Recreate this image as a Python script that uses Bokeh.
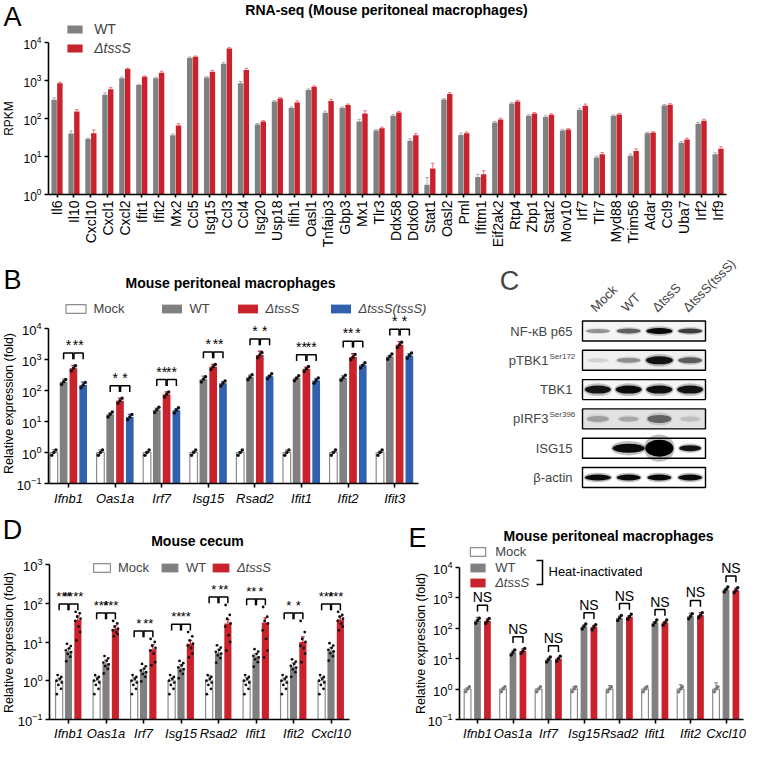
import math
from bokeh.plotting import figure
from bokeh.models import (Range1d, FixedTicker, Label, LabelSet, ColumnDataSource,
                          Legend, LegendItem, Arrow)
from bokeh.layouts import row, column
from bokeh.embed import file_html
from bokeh.resources import INLINE
from bokeh.core.properties import value

FONT = "Liberation Sans"
GRAY = "#808080"
RED = "#C9222C"
BLUE = "#3161AF"
MOCK_LINE = "#8c8c8c"

# ---------------- Panel A data ----------------
genes_A = ["Il6", "Il10", "Cxcl10", "Cxcl1", "Cxcl2", "Ifit1", "Ifit2", "Mx2", "Ccl5", "Isg15",
           "Ccl3", "Ccl4", "Isg20", "Usp18", "Ifih1", "Oasl1", "Tnfaip3", "Gbp3", "Mx1", "Tlr3",
           "Ddx58", "Ddx60", "Stat1", "Oasl2", "Pml", "Ifitm1", "Eif2ak2", "Rtp4", "Zbp1", "Stat2",
           "Mov10", "Irf7", "Tlr7", "Myd88", "Trim56", "Adar", "Ccl9", "Uba7", "Irf2", "Irf9"]
wt_A = [310, 40, 29, 420, 1150, 760, 1150, 36, 3900, 1200, 2750, 850, 70, 280, 190, 560, 141, 190, 83, 48,
        118, 26, 1.8, 315, 37, 2.9, 79, 250, 118, 110, 48, 167, 9.4, 118, 10.4, 41, 220, 23, 73, 11.5]
wt_err_A = [40, 7, 1.5, 50, 80, 40, 60, 3, 250, 60, 250, 90, 4, 15, 12, 40, 15, 12, 12, 3,
            8, 3, 1.0, 20, 4, 0.5, 5, 15, 7, 8, 3, 15, 0.8, 6, 1.2, 2, 12, 2, 6, 1]
ko_A = [850, 152, 41, 590, 2000, 1250, 1600, 65, 4200, 1700, 6900, 1900, 83, 335, 265, 680, 290, 225, 135, 55,
        144, 36, 4.8, 440, 41, 3.4, 94, 280, 135, 125, 51, 215, 11.5, 127, 14, 43, 230, 28, 87, 16]
ko_err_A = [50, 20, 9, 60, 120, 70, 150, 8, 200, 150, 400, 200, 5, 20, 25, 40, 30, 15, 25, 4,
            8, 4, 1.8, 40, 3, 0.8, 8, 20, 8, 8, 3, 25, 1.2, 8, 1.8, 2, 15, 2.5, 8, 2]

# ---------------- Panel B data ----------------
genes_B = ["Ifnb1", "Oas1a", "Irf7", "Isg15", "Rsad2", "Ifit1", "Ifit2", "Ifit3"]
mock_B = [1.0, 1.0, 1.0, 1.0, 1.0, 1.0, 1.0, 1.0]
mock_err_B = [0.25, 0.2, 0.06, 0.1, 0.06, 0.2, 0.06, 0.1]
wt_B = [190, 17, 24, 230, 270, 250, 260, 1250]
wt_err_B = [45, 1.5, 3, 60, 45, 20, 45, 100]
ko_B = [520, 47, 75, 580, 1400, 500, 1200, 3000]
ko_err_B = [130, 10, 15, 120, 450, 70, 350, 800]
comp_B = [150, 14, 23, 170, 290, 210, 650, 1350]
comp_err_B = [35, 3, 3, 25, 20, 30, 40, 200]
stars_B_wt_ko = ["*", "*", "**", "*", "*", "**", "**", "*"]
stars_B_ko_comp = ["**", "*", "**", "**", "*", "**", "*", "*"]
rep_ratio_3 = [0.82, 1.0, 1.2]

# ---------------- Panel C data ----------------
blot_lanes = ["Mock", "WT", "\u0394tssS", "\u0394tssS(tssS)"]
blot_rows = ["NF-\u03baB p65", "pTBK1", "TBK1", "pIRF3", "ISG15", "\u03b2-actin"]
blot_sup = ["", "Ser172", "", "Ser396", "", ""]
band_intensity = [[0.35, 0.55, 0.95, 0.7],
                  [0.1, 0.35, 0.9, 0.55],
                  [0.9, 0.95, 0.92, 0.9],
                  [0.25, 0.22, 0.5, 0.12],
                  [0.0, 0.95, 1.0, 0.9],
                  [0.95, 0.95, 0.95, 0.95]]
band_thickness = [[4, 5, 6, 5],
                  [4, 5, 8, 6],
                  [8, 8, 8, 8],
                  [6, 5, 8, 5],
                  [0, 9, 17, 6],
                  [6, 6, 6, 6]]
band_width = [[24, 24, 26, 24],
              [22, 24, 27, 24],
              [26, 26, 26, 26],
              [22, 20, 24, 20],
              [0, 32, 28, 22],
              [26, 24, 24, 24]]
blot_bg = ["#f4f4f4", "#f0f0f0", "#f6f6f6", "#e2e2e2", "#ffffff", "#ffffff"]

# ---------------- Panel D data ----------------
genes_D = ["Ifnb1", "Oas1a", "Irf7", "Isg15", "Rsad2", "Ifit1", "Ifit2", "Cxcl10"]
mock_D = [1.0, 1.0, 1.0, 1.0, 1.0, 1.0, 1.0, 1.0]
mock_err_D = [0.15, 0.25, 0.2, 0.15, 0.35, 0.2, 0.15, 0.2]
wt_D = [5.8, 2.8, 1.75, 2.1, 5.3, 4.2, 2.3, 6.0]
wt_err_D = [1.0, 0.6, 0.25, 0.5, 1.2, 0.8, 0.6, 1.2]
ko_D = [37, 22, 6.5, 9.0, 30, 32, 10, 38]
ko_err_D = [10, 4, 2, 2, 8, 10, 3.5, 8]
ko_reps_D = [[60, 55, 45, 40, 35, 25, 18, 11],
             [35, 30, 25, 22, 20, 18, 16, 14],
             [12, 10, 8, 7, 6, 5, 3, 2.5],
             [18, 14, 11, 9, 8, 7, 5, 4],
             [90, 50, 40, 30, 25, 15, 10, 6],
             [80, 45, 35, 30, 20, 12, 6, 4],
             [35, 18, 12, 10, 8, 7, 5, 3],
             [60, 50, 45, 40, 35, 30, 25, 20]]
mock_ratio_D = [0.45, 0.62, 0.78, 0.9, 1.0, 1.12, 1.25, 1.4]
wt_ratio_D = [0.55, 0.72, 0.85, 0.95, 1.05, 1.18, 1.35, 1.55]
stars_D_mock_wt = ["***", "***", "*", "**", "*", "**", "*", "***"]
stars_D_wt_ko = ["****", "***", "**", "**", "**", "*", "*", "***"]

# ---------------- Panel E data ----------------
genes_E = ["Ifnb1", "Oas1a", "Irf7", "Isg15", "Rsad2", "Ifit1", "Ifit2", "Cxcl10"]
mock_E = [1.0, 1.0, 1.0, 1.0, 1.0, 1.0, 1.0, 1.0]
mock_err_E = [0.1, 0.1, 0.05, 0.2, 0.3, 0.15, 0.4, 0.6]
wt_E = [180, 16, 9.5, 115, 220, 155, 250, 1900]
wt_err_E = [50, 3, 1, 15, 30, 10, 60, 150]
ko_E = [175, 18, 10, 110, 240, 155, 270, 1800]
ko_err_E = [30, 3, 0.7, 15, 20, 10, 60, 300]
ns_E = ["NS", "NS", "NS", "NS", "NS", "NS", "NS", "NS"]

# ---------------- helpers ----------------
# Each figure's frame covers its whole canvas; axes are pinned with fixed_location.
def new_panel(L, T, W, H, x0, s, y1, d):
    """L,T,W,H: canvas box on the page; x0: page x of category 0; s: px per category;
    y1: page y of value 1; d: px per decade."""
    xr = Range1d((L - x0) / s, (L + W - x0) / s)
    yr = Range1d(10 ** ((y1 - (T + H)) / d), 10 ** ((y1 - T) / d))
    p = figure(width=W, height=H, x_range=xr, y_range=yr, y_axis_type="log", title=None,
               output_backend="svg", toolbar_location=None, min_border=0)
    p.outline_line_color = None
    p.grid.visible = False
    p.background_fill_color = "white"
    p.border_fill_color = "white"
    return p, (L, T, W, H)


def style_axes(p, labels, xsize, italic, yticks, ysize, xbounds, ybounds, vertical=False,
               xstandoff=3):
    xa = p.xaxis[0]
    ya = p.yaxis[0]
    xa.ticker = FixedTicker(ticks=list(range(len(labels))), minor_ticks=[])
    xa.major_label_overrides = {i: t for i, t in enumerate(labels)}
    xa.major_label_text_font = FONT
    xa.major_label_text_font_size = f"{xsize}px"
    xa.major_label_text_font_style = "italic" if italic else "normal"
    xa.major_label_text_color = "black"
    if vertical:
        xa.major_label_orientation = math.pi / 2
    for ax in (xa, ya):
        ax.axis_line_width = 1.6
        ax.axis_line_color = "black"
        ax.major_tick_line_width = 1.6
        ax.major_tick_line_color = "black"
        ax.major_tick_out = 4
        ax.major_tick_in = 0
        ax.minor_tick_line_color = None
        ax.major_label_standoff = 3
    xa.major_label_standoff = xstandoff
    ya.ticker = FixedTicker(ticks=yticks, minor_ticks=[])
    ya.major_label_text_font = FONT
    ya.major_label_text_font_size = f"{ysize}px"
    ya.major_label_text_color = "black"
    xa.bounds = xbounds
    ya.bounds = ybounds
    xa.fixed_location = ybounds[0]
    ya.fixed_location = xbounds[0]


def txt(p, box, px, py, text, size=13, style="normal", align="center", baseline="middle",
        angle=0.0, color="black"):
    L, T, W, H = box
    p.add_layout(Label(x=px - L, y=T + H - py, x_units="screen", y_units="screen",
                       text=text, text_font=FONT, text_font_size=f"{size}px",
                       text_font_style=style, text_align=align, text_baseline=baseline,
                       angle=angle, text_color=color))


def legend_item(p, box, renderer, label, box_left, cy, box_w, box_h, standoff=6, size=13,
                style="normal"):
    L, T, W, H = box
    gw = box_w / 0.8
    gh = box_h / 0.8
    lx = box_left - gw * 0.1
    item_h = 16
    lg = Legend(items=[LegendItem(label=label, renderers=[renderer])],
                location=(lx - L, T + H - (cy + item_h / 2)),
                glyph_width=int(round(gw)), glyph_height=int(round(gh)), label_height=item_h,
                label_standoff=standoff, label_text_font=FONT,
                label_text_font_size=f"{size}px", label_text_font_style=style,
                padding=0, margin=0, spacing=0, border_line_color=None,
                background_fill_alpha=0, label_text_baseline="middle")
    p.add_layout(lg)


def seg_screen(p, box, x0, y0, x1, y1, lw=1.5):
    L, T, W, H = box
    p.add_layout(Arrow(end=None, x_start=x0 - L, y_start=T + H - y0,
                       x_end=x1 - L, y_end=T + H - y1,
                       start_units="screen", end_units="screen",
                       line_width=lw, line_color="black"))


def bars(p, xs, tops, width, bottom, fill, line=None, lw=1.2):
    src = ColumnDataSource(dict(x=xs, top=tops))
    return p.vbar(x="x", top="top", bottom=bottom, width=width, source=src,
                  fill_color=fill, line_color=line, line_width=lw)


def errors(p, xs, tops, errs, color, capw, lw=1.2):
    hi = [t + e for t, e in zip(tops, errs)]
    p.segment(x0=xs, y0=tops, x1=xs, y1=hi, line_color=color, line_width=lw)
    p.segment(x0=[x - capw / 2 for x in xs], y0=hi, x1=[x + capw / 2 for x in xs], y1=hi,
              line_color=color, line_width=lw)


def dots(p, xs, ys, size=3.5, color="#111111"):
    p.scatter(x=xs, y=ys, size=size, fill_color=color, line_color=None)


def brackets(p, pairs, lw=1.5):
    xs, ys = [], []
    for (xa, xb, top, leg) in pairs:
        xs.append([xa, xa, xb, xb])
        ys.append([leg, top, top, leg])
    p.multi_line(xs=xs, ys=ys, line_color="black", line_width=lw)


def star_labels(p, xs, ys, texts, size):
    src = ColumnDataSource(dict(x=xs, y=ys, t=texts))
    p.add_layout(LabelSet(x="x", y="y", text="t", source=src, text_align="center",
                          text_baseline="bottom", text_font=value(FONT),
                          text_font_size=value(f"{size}px"), text_color="black"))

# ======================= Panel A =======================
nA = len(genes_A)
pA, boxA = new_panel(0, 0, 746, 254, 56.5, 16.95, 194, 38)
style_axes(pA, genes_A, 14, False, [1, 10, 100, 1000, 10000], 12,
           (-0.5, nA - 0.5), (1, 1e4), vertical=True)
pA.xaxis[0].major_tick_out = 3
xw = [i - 0.17 for i in range(nA)]
xk = [i + 0.17 for i in range(nA)]
rA_wt = bars(pA, xw, wt_A, 0.32, 1, GRAY)
rA_ko = bars(pA, xk, ko_A, 0.32, 1, RED)
errors(pA, xw, wt_A, wt_err_A, "#a8a8a8", 0.2, lw=1.0)
errors(pA, xk, ko_A, ko_err_A, "#e2727b", 0.2, lw=1.0)
txt(pA, boxA, 12, 16, "A", size=27)
txt(pA, boxA, 386, 9, "RNA-seq (Mouse peritoneal macrophages)", size=14, style="bold")
txt(pA, boxA, 8, 118, "RPKM", size=12, angle=math.pi / 2)
legend_item(pA, boxA, rA_wt, "WT", 67, 29, 15, 8, standoff=10, size=14)
legend_item(pA, boxA, rA_ko, "\u0394tssS", 67, 48, 15, 8, standoff=10, size=14, style="italic")

# ======================= Panel B =======================
nB = len(genes_B)
pB, boxB = new_panel(0, 254, 426, 260, 68, 46.6, 452, 31)
style_axes(pB, genes_B, 13, True, [0.1, 1, 10, 100, 1000, 10000], 13,
           (-0.43, nB - 0.5), (0.1, 1e4))
offB = [-0.315, -0.105, 0.105, 0.315]
wB = 0.165
seriesB = [(mock_B, mock_err_B, "white", MOCK_LINE, MOCK_LINE),
           (wt_B, wt_err_B, GRAY, None, GRAY),
           (ko_B, ko_err_B, RED, None, RED),
           (comp_B, comp_err_B, BLUE, None, BLUE)]
rB = []
xB = []
for k, (vals, errs, fill, line, ecol) in enumerate(seriesB):
    xs = [i + offB[k] for i in range(nB)]
    xB.append(xs)
    rB.append(bars(pB, xs, vals, wB, 0.1, fill, line))
    errors(pB, xs, vals, errs, ecol, 0.09)
    dx, dy = [], []
    for i in range(nB):
        for j, r in enumerate(rep_ratio_3):
            dx.append(xs[i] + (j - 1) * 0.045)
            dy.append(vals[i] * r)
    dots(pB, dx, dy, size=3.5)
pairsB, sx, sy, st = [], [], [], []
for i in range(nB):
    m = max(wt_B[i] + wt_err_B[i], ko_B[i] + ko_err_B[i], comp_B[i] + comp_err_B[i])
    top = m * 2.5
    leg = top / 1.6
    pairsB.append((xB[1][i], xB[2][i] - 0.012, top, leg))
    pairsB.append((xB[2][i] + 0.012, xB[3][i], top, leg))
    sx += [(xB[1][i] + xB[2][i]) / 2, (xB[2][i] + xB[3][i]) / 2]
    sy += [top, top]
    st += [stars_B_wt_ko[i], stars_B_ko_comp[i]]
brackets(pB, pairsB)
star_labels(pB, sx, sy, st, 14)
txt(pB, boxB, 12, 279, "B", size=27)
txt(pB, boxB, 230, 282, "Mouse peritoneal macrophages", size=14, style="bold")
txt(pB, boxB, 8, 403, "Relative expression (fold)", size=12.5, angle=math.pi / 2)
legend_item(pB, boxB, rB[0], "Mock", 65, 308, 20, 9)
legend_item(pB, boxB, rB[1], "WT", 161, 308, 20, 9)
legend_item(pB, boxB, rB[2], "\u0394tssS", 237, 308, 20, 9, style="italic")
legend_item(pB, boxB, rB[3], "\u0394tssS(tssS)", 330, 308, 20, 9, style="italic")

# ======================= Panel C (western blot) =======================
OX, OY = 426, 514  # page coords of the figure's left / bottom
pC = figure(width=320, height=260, x_range=Range1d(0, 320), y_range=Range1d(0, 260),
            output_backend="svg", toolbar_location=None, x_axis_location=None,
            y_axis_location=None, min_border=0, title=None)
pC.grid.visible = False
pC.outline_line_color = None
pC.background_fill_color = "white"
pC.border_fill_color = "white"
box_l, box_r = 582, 705
lane_w = (box_r - box_l) / len(blot_lanes)
lane_x = [box_l + (i + 0.5) * lane_w for i in range(len(blot_lanes))]
row_y = [330.5 + r * 29.3 for r in range(len(blot_rows))]
cx = [(box_l + box_r) / 2 - OX] * len(blot_rows)
cy = [OY - y for y in row_y]
pC.rect(x=cx, y=cy, width=box_r - box_l, height=20, fill_color=blot_bg, line_color=None)
ex, ey, ew, eh, ea = [], [], [], [], []
for r in range(len(blot_rows)):
    for i in range(len(blot_lanes)):
        a = band_intensity[r][i]
        if a <= 0:
            continue
        ex += [lane_x[i] - OX, lane_x[i] - OX]
        ey += [OY - row_y[r], OY - row_y[r]]
        ew += [band_width[r][i] * 1.1, band_width[r][i]]
        eh += [band_thickness[r][i] * 1.6, band_thickness[r][i]]
        ea += [a * 0.25, a]
pC.ellipse(x=ex, y=ey, width=ew, height=eh, fill_color="black", fill_alpha=ea, line_color=None)
pC.rect(x=cx, y=cy, width=box_r - box_l, height=20, fill_color=None, line_color="black",
        line_width=1.4)
for r, name in enumerate(blot_rows):
    yy = OY - row_y[r]
    if blot_sup[r]:
        pC.add_layout(Label(x=548 - OX, y=yy, text=name, text_font=FONT, text_font_size="13px",
                            text_align="right", text_baseline="middle"))
        pC.add_layout(Label(x=549 - OX, y=yy + 4, text=blot_sup[r], text_font=FONT,
                            text_font_size="8px", text_align="left", text_baseline="middle"))
    else:
        pC.add_layout(Label(x=572 - OX, y=yy, text=name, text_font=FONT, text_font_size="13px",
                            text_align="right", text_baseline="middle"))
for i, name in enumerate(blot_lanes):
    pC.add_layout(Label(x=lane_x[i] - 5 - OX, y=OY - 309, text=name, text_font=FONT,
                        text_font_size="13px", text_align="left", text_baseline="alphabetic",
                        angle=math.pi / 4))
pC.add_layout(Label(x=509 - OX, y=OY - 280, text="C", text_font=FONT, text_font_size="27px",
                    text_align="center", text_baseline="middle"))

# ======================= Panel D =======================
nD = len(genes_D)
pD, boxD = new_panel(0, 514, 372, 228, 68, 37.5, 680.25, 38.75)
style_axes(pD, genes_D, 13, True, [0.1, 1, 10, 100, 1000], 13, (-0.507, nD - 0.5), (0.1, 1e3),
           xstandoff=2)
offD = [-0.25, 0.0, 0.25]
wD = 0.19
jitD = [-0.06, 0.05, -0.02, 0.07, -0.07, 0.02, 0.06, -0.04]
seriesD = [(mock_D, mock_err_D, "white", MOCK_LINE, MOCK_LINE),
           (wt_D, wt_err_D, GRAY, None, GRAY),
           (ko_D, ko_err_D, RED, None, RED)]
rD, xD = [], []
for k, (vals, errs, fill, line, ecol) in enumerate(seriesD):
    xs = [i + offD[k] for i in range(nD)]
    xD.append(xs)
    rD.append(bars(pD, xs, vals, wD, 0.1, fill, line))
    errors(pD, xs, vals, errs, ecol, 0.1)
    dx, dy = [], []
    for i in range(nD):
        if k == 2:
            reps = ko_reps_D[i]
        elif k == 1:
            reps = [vals[i] * r for r in wt_ratio_D]
        else:
            reps = [vals[i] * r for r in mock_ratio_D]
        for j, v in enumerate(reps):
            dx.append(xs[i] + jitD[j])
            dy.append(v)
    dots(pD, dx, dy, size=2.8)
pairsD, sx, sy, st = [], [], [], []
for i in range(nD):
    top = max(ko_reps_D[i]) * 1.6
    leg = top / 1.45
    pairsD.append((xD[0][i], xD[1][i] - 0.012, top, leg))
    pairsD.append((xD[1][i] + 0.012, xD[2][i], top, leg))
    sx += [(xD[0][i] + xD[1][i]) / 2, (xD[1][i] + xD[2][i]) / 2]
    sy += [top, top]
    st += [stars_D_mock_wt[i], stars_D_wt_ko[i]]
brackets(pD, pairsD)
star_labels(pD, sx, sy, st, 13)
txt(pD, boxD, 12, 529, "D", size=27)
txt(pD, boxD, 197, 540, "Mouse cecum", size=14, style="bold")
txt(pD, boxD, 8, 642, "Relative expression (fold)", size=12.5, angle=math.pi / 2)
legend_item(pD, boxD, rD[0], "Mock", 93, 567, 17, 9)
legend_item(pD, boxD, rD[1], "WT", 161, 567, 17, 9)
legend_item(pD, boxD, rD[2], "\u0394tssS", 212, 567, 17, 9, style="italic")

# ======================= Panel E =======================
nE = len(genes_E)
pE, boxE = new_panel(372, 514, 374, 228, 477, 35.5, 688.6, 30.4)
style_axes(pE, genes_E, 13, True, [0.1, 1, 10, 100, 1000, 10000], 13,
           (-0.507, nE - 0.5), (0.1, 1e4), xstandoff=2)
offE = [-0.28, 0.0, 0.28]
wE = 0.19
seriesE = [(mock_E, mock_err_E, "white", MOCK_LINE, MOCK_LINE),
           (wt_E, wt_err_E, GRAY, None, GRAY),
           (ko_E, ko_err_E, RED, None, RED)]
rE, xE = [], []
for k, (vals, errs, fill, line, ecol) in enumerate(seriesE):
    xs = [i + offE[k] for i in range(nE)]
    xE.append(xs)
    rE.append(bars(pE, xs, vals, wE, 0.1, fill, line))
    errors(pE, xs, vals, errs, ecol, 0.1)
    dx, dy = [], []
    for i in range(nE):
        for j, r in enumerate(rep_ratio_3):
            dx.append(xs[i] + (j - 1) * 0.05)
            dy.append(vals[i] * r)
    dots(pE, dx, dy, size=3.5, color="#111111" if k else "#777777")
pairsE, sx, sy = [], [], []
for i in range(nE):
    top = max(wt_E[i] + wt_err_E[i], ko_E[i] + ko_err_E[i]) * 2.5
    leg = top / 1.6
    pairsE.append((xE[1][i], xE[2][i], top, leg))
    sx.append((xE[1][i] + xE[2][i]) / 2)
    sy.append(top)
brackets(pE, pairsE)
star_labels(pE, sx, sy, ns_E, 14)
txt(pE, boxE, 417, 537, "E", size=27)
txt(pE, boxE, 608, 535, "Mouse peritoneal macrophages", size=14, style="bold")
txt(pE, boxE, 420, 643, "Relative expression (fold)", size=12.5, angle=math.pi / 2)
legend_item(pE, boxE, rE[0], "Mock", 470, 551, 15, 9, standoff=8)
legend_item(pE, boxE, rE[1], "WT", 470, 567, 15, 9, standoff=8)
legend_item(pE, boxE, rE[2], "\u0394tssS", 470, 582, 15, 9, standoff=8, style="italic")
seg_screen(pE, boxE, 542, 560, 542, 584)
seg_screen(pE, boxE, 536, 560, 542.7, 560)
seg_screen(pE, boxE, 536, 584, 542.7, 584)
txt(pE, boxE, 548, 571, "Heat-inactivated", size=13, align="left")

layout = column(pA, row(pB, pC), row(pD, pE))
open("out.html", "w").write(file_html(layout, INLINE))
